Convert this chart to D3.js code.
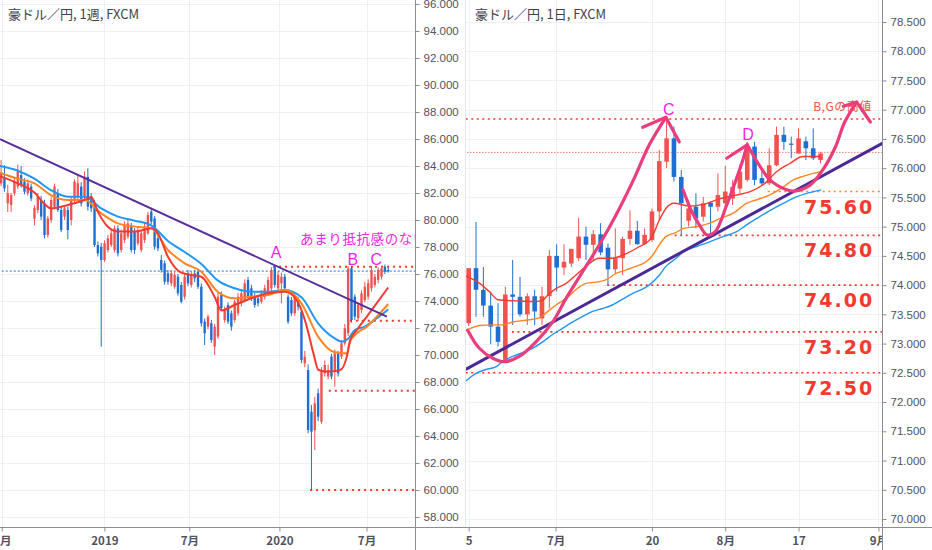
<!DOCTYPE html>
<html><head><meta charset="utf-8">
<script src="https://cdn.jsdelivr.net/npm/d3@7"></script>
<style>body{margin:0;background:#fff}svg{display:block}</style>
</head><body>
<svg id="c" width="932" height="550"></svg>
<script>
// ===== DATA: weekly panel (AUD/JPY, 1W) =====
const weeklyTitle = "豪ドル／円, 1週, FXCM";
// [open, high, low, close]
const weeklyOHLC = [
[82.72,84.44,82.5,83.46],[83.09,84.07,82.1,82.35],[81.23,82.6,80.6,81.98],[81.11,82.0,80.6,81.85],
[81.98,83.1,81.8,82.84],[82.47,84.1,82.3,83.58],[83.33,84.0,82.4,82.59],[82.84,83.1,81.9,82.10],
[81.98,83.0,81.8,82.72],[82.47,82.7,81.4,81.60],[80.1,81.1,79.6,80.9],[80.74,82.0,80.5,81.73],
[81.48,81.8,80.0,80.25],[81.23,81.5,78.64,78.89],[78.89,80.3,78.7,80.12],[80.0,81.7,79.8,81.48],
[80.99,82.7,80.8,82.47],[81.98,82.3,80.6,80.74],[80.74,81.0,79.1,79.26],[80.25,81.1,80.0,80.86],
[80.74,81.0,78.57,79.26],[80.0,81.7,79.6,81.48],[81.48,83.0,81.3,82.84],[81.73,83.3,81.5,82.72],
[82.47,82.8,81.0,81.23],[81.73,83.6,81.5,83.21],[83.21,83.83,80.7,80.99],[81.73,82.0,80.6,80.86],
[81.23,81.5,78.0,78.15],[78.15,78.4,77.3,77.53],[78.02,78.3,70.62,77.04],[77.04,78.5,76.9,78.27],
[77.78,78.9,77.6,78.64],[78.15,79.3,78.0,79.01],[77.78,79.6,77.6,79.38],[79.38,79.6,77.3,77.53],
[77.78,79.3,77.6,79.01],[78.52,79.9,78.3,79.63],[78.77,80.0,78.6,79.75],[79.51,79.8,77.6,77.78],
[79.14,79.4,77.5,77.78],[78.27,79.5,78.1,79.26],[77.78,79.2,77.6,79.01],[78.52,79.8,78.3,79.51],
[79.01,80.6,78.9,80.37],[80.62,80.9,79.7,79.88],[80.12,80.3,77.8,78.02],[78.64,78.9,77.7,77.90],
[77.04,77.4,76.1,76.30],[76.79,77.0,75.2,75.43],[76.05,76.3,75.2,75.43],[75.31,76.3,75.1,76.05],
[75.06,76.2,74.9,75.93],[75.80,76.0,74.4,74.57],[75.19,75.4,73.83,73.95],[74.32,76.0,74.1,75.80],
[76.05,76.3,75.1,75.31],[75.19,76.2,75.0,75.93],[76.05,76.3,75.4,75.68],[76.17,76.4,74.9,75.06],
[75.06,75.3,72.1,72.35],[72.47,72.7,70.74,71.61],[72.10,73.0,71.9,72.84],[72.35,72.6,70.9,71.11],
[70.62,72.3,70.0,72.10],[71.36,74.6,71.2,74.32],[74.45,74.7,73.3,73.46],[72.59,73.6,72.4,73.33],
[73.70,73.9,72.3,72.47],[73.09,73.3,71.8,72.10],[72.59,74.1,72.4,73.95],[73.09,74.6,72.9,74.32],
[73.83,74.8,73.6,74.57],[74.07,75.6,73.9,75.31],[75.56,75.8,74.1,74.32],[74.94,75.2,74.0,74.20],
[74.32,74.6,73.5,73.70],[74.20,74.4,73.6,73.83],[73.95,74.8,73.8,74.57],[74.32,75.2,74.1,74.94],
[74.57,75.8,74.4,75.56],[74.94,76.5,74.7,76.30],[76.54,76.67,75.0,75.19],[74.94,76.2,74.8,75.93],
[75.31,76.1,73.83,75.80],[75.80,76.0,74.7,74.94],[74.32,74.5,72.3,72.47],[74.07,74.3,72.9,73.09],
[73.09,74.6,72.9,74.32],[74.07,74.3,73.3,73.58],[73.21,73.4,69.4,69.63],[69.38,70.3,69.1,69.88],
[68.89,69.3,64.2,64.44],[65.80,66.3,60.0,64.32],[64.44,66.9,62.96,66.42],[67.16,67.5,65.1,65.43],
[65.06,69.1,64.9,68.89],[68.64,69.6,68.4,69.26],[68.40,69.3,68.2,68.89],[69.88,70.1,68.2,68.40],
[68.89,70.4,67.65,70.12],[70.12,70.3,68.4,68.64],[69.88,71.1,69.7,70.86],[70.86,72.3,70.7,71.98],
[71.61,76.6,71.4,76.42],[76.42,76.6,72.4,72.59],[74.32,74.5,72.6,72.84],[72.72,73.9,72.5,73.70],
[73.33,74.8,73.1,74.57],[74.07,75.4,73.9,75.06],[74.32,75.6,74.1,75.31],[74.94,76.6,74.7,76.30],
[75.19,76.0,75.0,75.80],[75.56,76.5,75.3,76.30],[75.80,76.6,75.6,76.42],[76.54,76.7,76.0,76.17],
[76.3,76.5,76.1,76.2]
];
// moving averages: [bar index, value]
const weeklyMAred = [[-0.4,83.25],[5,82.72],[10,82.03],[13,81.2],[15,80.86],[20,81.11],[25,81.48],[27,81.7],[29,80.6],[32,79.5],[35,79.14],[40,79.14],[45,79.38],[47,79.0],[50,77.28],[54,76.1],[58,75.9],[60,75.8],[64,74.3],[66,73.3],[70,73.7],[75,74.2],[80,74.57],[85,74.69],[87,74.5],[89.6,73.58],[91.6,72.1],[93.6,70.12],[95.1,68.89],[98,68.77],[101.6,68.89],[103.6,69.88],[104.6,71.11],[106.6,71.85],[109.6,72.84],[116,75.0]];
const weeklyMAorange = [[-0.4,83.5],[5,83.06],[10,82.72],[15,81.83],[20,81.48],[25,81.48],[30,80.49],[35,79.75],[40,79.51],[45,79.38],[50,77.78],[55,76.79],[60,76.17],[65,74.67],[70,74.2],[75,74.32],[80,74.44],[85,74.81],[90,73.83],[95,71.36],[100,70.2],[103.6,70.12],[104.6,70.99],[106.6,71.6],[109.6,72.1],[112.6,72.84],[116,73.78]];
const weeklyMAblue = [[-0.4,84.0],[5,83.65],[10,83.06],[15,82.2],[20,81.73],[25,81.73],[30,80.86],[35,80.25],[40,79.95],[45,79.61],[50,78.45],[55,77.63],[60,76.74],[65,75.51],[70,74.94],[75,74.69],[80,74.69],[85,74.81],[90,74.27],[95,72.35],[100,71.23],[102,70.99],[104,71.2],[106,71.85],[109,72.1],[112.6,72.72],[116,73.38]];
const weeklyTrend = [[-0.33,85.98],[115.6,72.84]];
const weeklyPriceTicks = [58,60,62,64,66,68,70,72,74,76,78,80,82,84,86,88,90,92,94,96];
const weeklyTimeTickIdx = [0.2,30.95,56.4,83.4,109.5];
const weeklyTimeTickLabels = ["6月","2019","7月","2020","7月"];
// dotted levels: [start bar index, price]
const weeklyRedLevels = [[81.5,76.54],[104.5,72.54],[98.2,67.36],[92.6,60.0]];
const weeklyLastPrice = 76.22;
const weeklyMarks = [{t:"A",i:82.4,p:77.19},{t:"B",i:105.4,p:76.67},{t:"C",i:112.4,p:76.67}];
const weeklyNote = {t:"あまり抵抗感のない",i:89.6,p:78.22};

// ===== DATA: daily panel (AUD/JPY, 1D) =====
const dailyTitle = "豪ドル／円, 1日, FXCM";
const dailyOHLC = [
[73.35,74.29,73.3,74.29],[74.29,75.08,73.46,73.92],[73.92,74.31,73.46,73.65],[73.65,73.89,72.99,73.29],
[73.29,73.69,72.95,73.03],[72.72,73.97,72.72,73.84],[73.84,74.43,73.32,73.80],[73.80,74.14,73.46,73.50],
[73.50,73.86,73.32,73.81],[73.81,73.92,73.32,73.55],[73.43,73.97,73.32,73.81],[73.81,74.60,73.60,74.50],
[74.50,74.70,73.89,74.30],[74.30,74.70,74.17,74.40],[74.37,74.62,74.31,74.62],[74.46,75.15,74.41,74.83],
[74.83,75.00,74.43,74.69],[74.69,74.94,74.41,74.87],[74.87,75.06,74.51,74.56],[74.64,74.71,74.00,74.27],
[74.27,74.97,74.20,74.46],[74.46,74.83,74.17,74.79],[74.79,75.28,74.69,74.93],[74.93,75.10,74.69,74.70],
[74.70,74.97,74.69,74.86],[74.77,75.31,74.74,75.26],[75.26,76.31,75.11,76.12],[76.11,76.80,76.00,76.51],
[76.51,76.71,75.77,75.85],[75.85,75.97,74.86,75.40],[75.10,75.45,75.00,75.31],[75.34,75.57,74.97,75.14],
[75.17,75.51,75.09,75.40],[75.41,75.43,74.86,75.34],[75.34,75.91,75.26,75.54],[75.40,76.04,75.31,75.60],
[75.48,75.80,75.37,75.68],[75.65,76.06,75.57,75.94],[75.80,76.45,75.77,76.37],[76.37,76.45,75.71,75.80],
[75.83,75.94,75.71,75.74],[75.74,76.34,75.71,76.05],[76.05,76.71,76.03,76.57],[76.57,76.71,76.31,76.45],
[76.42,76.54,76.17,76.41],[76.25,76.68,76.25,76.51],[76.46,76.54,76.14,76.34],[76.34,76.68,76.14,76.17],
[76.14,76.28,76.08,76.25]
];
const dailyMAred = [[-0.4,74.16],[1.5,74.03],[2.8,73.89],[4,73.75],[6.5,73.73],[8.7,73.72],[9.9,73.73],[10.8,73.83],[11.9,73.94],[13.3,74.03],[14.6,74.17],[16,74.32],[17.8,74.46],[19.6,74.46],[21.5,74.54],[23.3,74.66],[24.9,74.8],[26,75.11],[26.9,75.31],[28,75.4],[30.2,75.35],[32,75.38],[34.3,75.48],[36.5,75.54],[38.4,75.6],[40.2,75.72],[42,75.94],[43.8,76.08],[45.6,76.2],[48,76.2]];
const dailyMAorange = [[-0.4,73.22],[1.5,73.31],[3.3,73.32],[4.6,73.32],[6,73.37],[7.8,73.4],[9.6,73.44],[10.5,73.52],[11.9,73.66],[13.3,73.77],[14.6,73.92],[16,74.03],[17.8,74.06],[18.7,74.09],[20.1,74.2],[21.5,74.26],[22.8,74.32],[24.2,74.4],[25.1,74.51],[26,74.69],[26.9,74.83],[28.3,74.9],[29.3,74.97],[31.1,75.0],[32.9,75.06],[34.3,75.14],[36.1,75.23],[37.9,75.4],[39.3,75.46],[41.5,75.57],[42.9,75.68],[44.3,75.8],[45.6,75.86],[47,75.91],[48.1,75.94]];
const dailyMAblue = [[-0.4,72.36],[1,72.49],[2.4,72.56],[3.7,72.6],[4.6,72.69],[6,72.78],[7.4,72.85],[8.7,72.92],[10.1,73.03],[11.5,73.16],[12.8,73.26],[14.2,73.37],[15.5,73.46],[16.9,73.55],[18.3,73.6],[19.6,73.66],[21,73.76],[22.4,73.86],[23.7,73.93],[24.6,74.0],[26,74.17],[26.9,74.32],[28.3,74.46],[29.3,74.57],[31.1,74.66],[32.9,74.74],[34.7,74.83],[36.5,74.91],[37.9,75.03],[39.3,75.14],[40.6,75.24],[42,75.34],[43.4,75.43],[44.7,75.51],[46.1,75.57],[48.1,75.63]];
const dailyTrend = [[-0.4,72.56],[56.5,76.43]];
const dailyPriceTicks = [70,70.5,71,71.5,72,72.5,73,73.5,74,74.5,75,75.5,76,76.5,77,77.5,78,78.5];
const dailyTimeTickIdx = [0,11.85,25,35,45,55.9];
const dailyTimeTickLabels = ["5","7月","20","8月","17","9月"];
// dotted levels [start bar index, price]
const dailyRedLevels = [[-0.4,76.84],[28.1,74.85],[18.9,74.0],[5.9,73.2],[-0.4,72.5]];
const dailyOrangeLevel = [40.8,75.6];
const dailyLastPrice = 76.27;
const dailyBigLabels = [{t:"75.60",p:75.6},{t:"74.80",p:74.85},{t:"74.00",p:74.0},{t:"73.20",p:73.2},{t:"72.50",p:72.5}];
const dailyMarks = [{t:"C",i:27.3,p:76.91},{t:"D",i:38.1,p:76.48}];
const dailyNote = {t:"B,Gの高値",i:47.0,p:76.97};
// hand-drawn arrows, points in [bar index, price]
const arrowCup1 = [[-0.14,73.23],[1.45,72.92],[3.27,72.75],[4.86,72.69],[6.9,72.78],[9.18,73.03],[11.46,73.37],[13.27,73.77],[15.55,74.23],[17.82,74.69],[20.1,75.2],[22.37,75.77],[24.64,76.4],[26.9,76.87]];
const arrowHeadC = [[23.74,76.7],[26.9,76.87],[28.73,76.45]];
const arrowCup2 = [[29.24,75.63],[30.46,75.25],[31.57,75.01],[32.47,74.86],[33.6,74.91],[35.2,75.37],[36.47,75.8],[37.4,76.14],[38.0,76.4]];
const arrowHeadD = [[35.2,76.17],[38.0,76.4]];
const arrowCup3 = [[38.0,76.4],[39.74,76.03],[41.1,75.8],[43.38,75.63],[44.5,75.61],[46.56,75.71],[48.3,75.97],[49.98,76.35],[51.3,76.79],[52.93,77.13]];
const arrowHeadE = [[51.1,77.06],[52.93,77.13],[54.8,76.79]];

// ===== DRAWING =====
const UP = "#ef5350", DOWN = "#1f6fd1";
const MA_R = "#f23a2e", MA_O = "#ff8424", MA_B = "#2196f3";
const GRID = "#edf1f6", AXIS = "#8a8d96", LBL = "#50535e";
const CJK = "'Noto Sans CJK JP', 'Liberation Sans', sans-serif";
const svg = d3.select("#c");
const defs = svg.append("defs");
defs.append("clipPath").attr("id","clipL").append("rect").attr("x",0).attr("y",0).attr("width",415).attr("height",527);
defs.append("clipPath").attr("id","clipR").append("rect").attr("x",466).attr("y",0).attr("width",416).attr("height",527);
defs.append("clipPath").attr("id","clipRB").append("rect").attr("x",466).attr("y",527).attr("width",416).attr("height",23);
defs.append("clipPath").attr("id","clipLB").append("rect").attr("x",0).attr("y",527).attr("width",415).attr("height",23);

svg.append("rect").attr("width",932).attr("height",550).attr("fill","#fff");

// scales
const xW = d3.scaleLinear().domain([0,116]).range([1.1, 388.2]);
const yW = d3.scaleLinear().domain([96,58]).range([4,517]);
const xD = d3.scaleLinear().domain([0,48]).range([468.7, 468.7 + 7.33*48]);
const yD = d3.scaleLinear().domain([78.5,70]).range([22,519]);

function panel(cfg){
  const {x,y,x0,x1,clip,clipB,priceTicks,timeIdx,timeLabels,axisX,title,titleX} = cfg;
  const g = svg.append("g");
  g.selectAll(".hg").data(priceTicks).enter().append("line")
    .attr("x1",x0).attr("x2",x1).attr("y1",d=>Math.round(y(d))+0.5).attr("y2",d=>Math.round(y(d))+0.5)
    .attr("stroke",GRID).attr("stroke-width",1);
  g.append("g").attr("clip-path",`url(#${clip})`).selectAll(".vg").data(timeIdx).enter().append("line")
    .attr("x1",d=>Math.round(x(d))+0.5).attr("x2",d=>Math.round(x(d))+0.5).attr("y1",0).attr("y2",527)
    .attr("stroke",GRID).attr("stroke-width",1);
  svg.append("text").attr("x",titleX).attr("y",19).text(title)
    .attr("font-family",CJK).attr("font-size",13).attr("fill","#3f424c");
  const plot = svg.append("g").attr("clip-path",`url(#${clip})`);
  const ax = svg.append("g").attr("transform",`translate(${axisX},0)`)
    .call(d3.axisRight(y).tickValues(priceTicks).tickFormat(d3.format(".3f")).tickSize(4).tickPadding(4));
  ax.select(".domain").remove();
  ax.selectAll(".tick line").attr("stroke",AXIS);
  ax.selectAll(".tick text").attr("fill",LBL).attr("font-family","'Liberation Sans', Arial, sans-serif").attr("font-size",11.5);
  svg.append("line").attr("x1",axisX).attr("x2",axisX).attr("y1",0).attr("y2",550).attr("stroke",AXIS).attr("stroke-width",1);
  const bwrap = svg.append("g").attr("clip-path",`url(#${clipB})`);
  const bx = bwrap.append("g").attr("transform","translate(0,527.5)")
    .call(d3.axisBottom(x).tickValues(timeIdx).tickFormat((d,i)=>timeLabels[i]).tickSize(4).tickPadding(5));
  bx.select(".domain").remove();
  bx.selectAll(".tick line").attr("stroke",AXIS);
  bx.selectAll(".tick text").attr("fill",LBL).attr("font-family",CJK).attr("font-size",11.5).attr("font-weight","bold");
  return plot;
}

const plotL = panel({x:xW,y:yW,x0:0,x1:415,clip:"clipL",clipB:"clipLB",priceTicks:weeklyPriceTicks,
  timeIdx:weeklyTimeTickIdx,timeLabels:weeklyTimeTickLabels,axisX:415.5,title:weeklyTitle,titleX:8});
const plotR = panel({x:xD,y:yD,x0:466,x1:882,clip:"clipR",clipB:"clipRB",priceTicks:dailyPriceTicks,
  timeIdx:dailyTimeTickIdx,timeLabels:dailyTimeTickLabels,axisX:882.5,title:dailyTitle,titleX:475});

svg.append("line").attr("x1",0).attr("x2",932).attr("y1",527.5).attr("y2",527.5).attr("stroke",AXIS);
svg.append("line").attr("x1",465.5).attr("x2",465.5).attr("y1",0).attr("y2",527).attr("stroke","#e3e6ec");

function levels(plot,x,y,data,x1,color,w,dash){
  plot.selectAll(null).data(data).enter().append("line")
    .attr("x1",d=>x(d[0])).attr("x2",x1).attr("y1",d=>y(d[1])).attr("y2",d=>y(d[1]))
    .attr("stroke",color).attr("stroke-width",w).attr("stroke-dasharray",dash);
}
function candles(plot,x,y,data,bw){
  const g = plot.append("g");
  g.selectAll("line").data(data).enter().append("line")
    .attr("x1",(d,i)=>x(i)).attr("x2",(d,i)=>x(i)).attr("y1",d=>y(d[1])).attr("y2",d=>y(d[2]))
    .attr("stroke",d=>d[3]>=d[0]?UP:DOWN).attr("stroke-width",1);
  g.selectAll("rect").data(data).enter().append("rect")
    .attr("x",(d,i)=>x(i)-bw/2).attr("width",bw)
    .attr("y",d=>y(Math.max(d[0],d[3])))
    .attr("height",d=>Math.max(1.2,Math.abs(y(d[0])-y(d[3]))))
    .attr("fill",d=>d[3]>=d[0]?UP:DOWN);
}
function ma(plot,x,y,data,color,w){
  plot.append("path").datum(data)
    .attr("d",d3.line().x(d=>x(d[0])).y(d=>y(d[1])).curve(d3.curveMonotoneX))
    .attr("fill","none").attr("stroke",color).attr("stroke-width",w).attr("stroke-linejoin","round");
}

// weekly contents
levels(plotL,xW,yW,[[-1,weeklyLastPrice]],415,"#4a8fe0",1.3,"2,2");
levels(plotL,xW,yW,weeklyRedLevels,415,"#f23a2e",2,"2,4");
candles(plotL,xW,yW,weeklyOHLC,2.4);
ma(plotL,xW,yW,weeklyMAblue,MA_B,2);
ma(plotL,xW,yW,weeklyMAorange,MA_O,2);
ma(plotL,xW,yW,weeklyMAred,MA_R,2);
plotL.append("line").attr("x1",xW(weeklyTrend[0][0])).attr("y1",yW(weeklyTrend[0][1]))
  .attr("x2",xW(weeklyTrend[1][0])).attr("y2",yW(weeklyTrend[1][1]))
  .attr("stroke","#5a2d9c").attr("stroke-width",2);
plotL.selectAll(null).data(weeklyMarks).enter().append("text")
  .attr("x",d=>xW(d.i)).attr("y",d=>yW(d.p)).attr("text-anchor","middle")
  .attr("font-family","'Liberation Sans', Arial, sans-serif").attr("font-size",16).attr("fill","#f41ee8").text(d=>d.t);
plotL.append("text").attr("x",xW(weeklyNote.i)).attr("y",yW(weeklyNote.p)).text(weeklyNote.t)
  .attr("font-family",CJK).attr("font-size",13.5).attr("fill","#f41ee8").attr("letter-spacing",0.6);

// daily contents
levels(plotR,xD,yD,[[-1,dailyLastPrice]],882,"#f23a2e",1,"1,2");
levels(plotR,xD,yD,dailyRedLevels,882,"#f23a2e",1.6,"2,3.5");
levels(plotR,xD,yD,[dailyOrangeLevel],882,"#ff8a1c",1.6,"2,3.5");
candles(plotR,xD,yD,dailyOHLC,4.6);
ma(plotR,xD,yD,dailyMAblue,MA_B,1.4);
ma(plotR,xD,yD,dailyMAorange,MA_O,1.4);
ma(plotR,xD,yD,dailyMAred,MA_R,1.4);
plotR.append("line").attr("x1",xD(dailyTrend[0][0])).attr("y1",yD(dailyTrend[0][1]))
  .attr("x2",xD(dailyTrend[1][0])).attr("y2",yD(dailyTrend[1][1]))
  .attr("stroke","#4b2a96").attr("stroke-width",3);
plotR.selectAll(null).data(dailyBigLabels).enter().append("text")
  .attr("x",804).attr("y",d=>yD(d.p)+22).text(d=>d.t)
  .attr("font-family","'DejaVu Sans', sans-serif").attr("font-weight","bold").attr("font-size",19)
  .attr("letter-spacing",2).attr("fill","#f23a2e");
plotR.append("text").attr("x",xD(dailyNote.i)).attr("y",yD(dailyNote.p)).text(dailyNote.t)
  .attr("font-family",CJK).attr("font-size",12).attr("fill","#f05545").attr("letter-spacing",0.5);
const pink = "#ea3d7c";
const arrowLine = d3.line().x(d=>xD(d[0])).y(d=>yD(d[1])).curve(d3.curveCatmullRom);
const straight = d3.line().x(d=>xD(d[0])).y(d=>yD(d[1]));
[[arrowCup1,arrowLine],[arrowHeadC,straight],[arrowCup2,arrowLine],[arrowHeadD,straight],[arrowCup3,arrowLine],[arrowHeadE,straight]]
  .forEach(([pts,gen])=>{
    plotR.append("path").datum(pts).attr("d",gen).attr("fill","none").attr("stroke",pink)
      .attr("stroke-width",3.2).attr("stroke-linecap","round").attr("stroke-linejoin","round");
  });
plotR.selectAll(null).data(dailyMarks).enter().append("text")
  .attr("x",d=>xD(d.i)).attr("y",d=>yD(d.p)).attr("text-anchor","middle")
  .attr("font-family","'Liberation Sans', Arial, sans-serif").attr("font-size",16).attr("fill","#f41ee8").text(d=>d.t);
</script>
</body></html>
